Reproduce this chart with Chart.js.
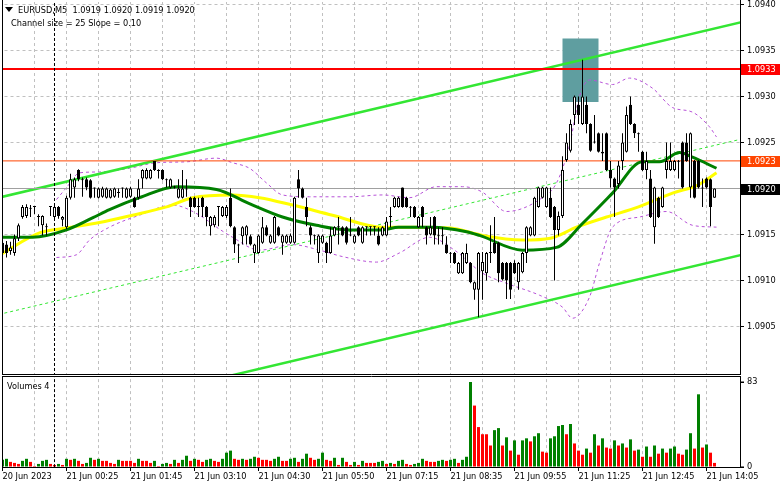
<!DOCTYPE html>
<html><head><meta charset="utf-8">
<script src="https://cdn.jsdelivr.net/npm/chart.js@4.4.1/dist/chart.umd.min.js"></script>
<style>
html,body{margin:0;padding:0;background:#fff;}
#wrap{position:relative;width:781px;height:489px;overflow:hidden;background:#fff;}
canvas{position:absolute;left:0;}
.t{position:absolute;font-family:'DejaVu Sans',sans-serif;font-size:8.2px;line-height:10px;color:#000;white-space:pre;}
#tri{position:absolute;left:5px;top:7px;width:0;height:0;border-left:4px solid transparent;border-right:4px solid transparent;border-top:5px solid #000;}
</style></head><body>
<div id="wrap">
<canvas id="priceChart" width="781" height="376" style="top:0"></canvas>
<canvas id="volChart" width="781" height="113" style="top:376px"></canvas>
<div id="tri"></div>
<div class="t" id="hdr" style="left:18px;top:5px"></div>
<div class="t" style="left:11px;top:18px">Channel size = 25 Slope = 0.10</div>
<div class="t" id="volTitle" style="left:7px;top:381px"></div>
</div>
<script>
const symbolName = 'EURUSD,M5';
const timeLabels = ['20 Jun 2023','21 Jun 00:25','21 Jun 01:45','21 Jun 03:10','21 Jun 04:30','21 Jun 05:50','21 Jun 07:15','21 Jun 08:35','21 Jun 09:55','21 Jun 11:25','21 Jun 12:45','21 Jun 14:05'];
const priceTicks = [1.0905,1.0910,1.0915,1.0920,1.0925,1.0930,1.0935,1.0940];
const volumeTicks = [0, 83];

const open = [
1.09141,1.09139,1.09132,1.09130,1.09146,1.09169,1.09170,1.09179,1.09180,1.09169,
1.09160,1.09158,1.09180,1.09169,1.09180,1.09166,1.09158,1.09190,1.09201,1.09220,
1.09210,1.09210,1.09209,1.09200,1.09190,1.09191,1.09190,1.09190,1.09191,1.09195,
1.09200,1.09190,1.09191,1.09190,1.09190,1.09211,1.09211,1.09211,1.09230,1.09220,
1.09220,1.09210,1.09201,1.09201,1.09190,1.09190,1.09200,1.09190,1.09190,1.09180,
1.09190,1.09180,1.09159,1.09160,1.09180,1.09170,1.09170,1.09190,1.09158,1.09139,
1.09148,1.09149,1.09148,1.09130,1.09130,1.09141,1.09158,1.09141,1.09141,1.09158,
1.09141,1.09141,1.09141,1.09141,1.09210,1.09200,1.09180,1.09158,1.09149,1.09130,
1.09141,1.09141,1.09130,1.09149,1.09158,1.09158,1.09158,1.09150,1.09141,1.09158,
1.09141,1.09158,1.09158,1.09158,1.09149,1.09149,1.09149,1.09169,1.09180,1.09180,
1.09201,1.09190,1.09180,1.09180,1.09158,1.09180,1.09158,1.09150,1.09169,1.09149,
1.09148,1.09139,1.09130,1.09130,1.09108,1.09108,1.09119,1.09119,1.09090,1.09090,
1.09110,1.09108,1.09130,1.09141,1.09141,1.09119,1.09119,1.09119,1.09119,1.09098,
1.09109,1.09130,1.09149,1.09149,1.09180,1.09190,1.09180,1.09190,1.09180,1.09155,
1.09170,1.09231,1.09241,1.09280,1.09291,1.09270,1.09291,1.09270,1.09250,1.09260,
1.09240,1.09260,1.09220,1.09211,1.09205,1.09230,1.09240,1.09291,1.09270,1.09260,
1.09240,1.09220,1.09211,1.09158,1.09190,1.09180,1.09220,1.09220,1.09220,1.09230,
1.09250,1.09250,1.09201,1.09230,1.09230,1.09201,1.09211,1.09210,1.09190];
const high = [
1.09145,1.09143,1.09142,1.09150,1.09162,1.09182,1.09183,1.09182,1.09181,1.09172,
1.09171,1.09162,1.09181,1.09182,1.09181,1.09170,1.09192,1.09216,1.09212,1.09221,
1.09212,1.09212,1.09210,1.09201,1.09201,1.09202,1.09201,1.09200,1.09201,1.09200,
1.09201,1.09201,1.09202,1.09191,1.09210,1.09221,1.09222,1.09221,1.09230,1.09221,
1.09221,1.09211,1.09211,1.09203,1.09210,1.09220,1.09210,1.09191,1.09191,1.09190,
1.09191,1.09181,1.09170,1.09171,1.09181,1.09181,1.09182,1.09200,1.09159,1.09140,
1.09159,1.09160,1.09150,1.09140,1.09150,1.09169,1.09160,1.09150,1.09170,1.09159,
1.09150,1.09150,1.09151,1.09191,1.09220,1.09201,1.09190,1.09160,1.09150,1.09150,
1.09150,1.09142,1.09158,1.09159,1.09169,1.09159,1.09159,1.09169,1.09150,1.09159,
1.09159,1.09159,1.09159,1.09159,1.09158,1.09159,1.09169,1.09180,1.09191,1.09191,
1.09201,1.09191,1.09181,1.09181,1.09170,1.09181,1.09159,1.09169,1.09170,1.09158,
1.09158,1.09148,1.09131,1.09131,1.09120,1.09131,1.09140,1.09120,1.09099,1.09131,
1.09131,1.09131,1.09160,1.09169,1.09142,1.09120,1.09120,1.09120,1.09122,1.09120,
1.09131,1.09159,1.09159,1.09191,1.09202,1.09202,1.09202,1.09201,1.09181,1.09175,
1.09235,1.09260,1.09275,1.09301,1.09300,1.09340,1.09300,1.09271,1.09280,1.09261,
1.09260,1.09261,1.09230,1.09212,1.09230,1.09260,1.09289,1.09300,1.09271,1.09261,
1.09241,1.09240,1.09220,1.09202,1.09191,1.09202,1.09250,1.09250,1.09231,1.09231,
1.09251,1.09260,1.09261,1.09231,1.09231,1.09211,1.09212,1.09211,1.09200];
const low = [
1.09126,1.09125,1.09128,1.09127,1.09143,1.09167,1.09168,1.09169,1.09172,1.09159,
1.09149,1.09149,1.09170,1.09165,1.09167,1.09159,1.09156,1.09188,1.09190,1.09208,
1.09191,1.09198,1.09189,1.09190,1.09189,1.09190,1.09189,1.09189,1.09190,1.09190,
1.09190,1.09189,1.09190,1.09179,1.09188,1.09200,1.09210,1.09210,1.09219,1.09211,
1.09209,1.09201,1.09200,1.09200,1.09189,1.09189,1.09191,1.09169,1.09179,1.09169,
1.09169,1.09159,1.09149,1.09158,1.09159,1.09169,1.09168,1.09158,1.09130,1.09119,
1.09139,1.09139,1.09138,1.09119,1.09129,1.09140,1.09148,1.09140,1.09140,1.09148,
1.09128,1.09140,1.09140,1.09140,1.09190,1.09189,1.09159,1.09139,1.09139,1.09119,
1.09140,1.09119,1.09129,1.09148,1.09139,1.09148,1.09139,1.09148,1.09140,1.09148,
1.09140,1.09149,1.09149,1.09149,1.09138,1.09148,1.09148,1.09158,1.09179,1.09179,
1.09179,1.09179,1.09169,1.09168,1.09157,1.09158,1.09139,1.09149,1.09139,1.09139,
1.09139,1.09129,1.09119,1.09118,1.09107,1.09107,1.09118,1.09097,1.09079,1.09060,
1.09079,1.09100,1.09119,1.09129,1.09098,1.09100,1.09080,1.09080,1.09107,1.09090,
1.09108,1.09119,1.09148,1.09148,1.09179,1.09189,1.09179,1.09168,1.09100,1.09149,
1.09168,1.09229,1.09239,1.09269,1.09270,1.09269,1.09260,1.09240,1.09249,1.09239,
1.09230,1.09219,1.09201,1.09169,1.09200,1.09220,1.09239,1.09269,1.09255,1.09240,
1.09219,1.09210,1.09168,1.09140,1.09168,1.09179,1.09211,1.09219,1.09219,1.09211,
1.09200,1.09229,1.09190,1.09189,1.09200,1.09180,1.09200,1.09159,1.09190];
const close = [
1.09130,1.09130,1.09136,1.09146,1.09160,1.09180,1.09180,1.09178,1.09180,1.09170,
1.09170,1.09159,1.09180,1.09180,1.09170,1.09169,1.09190,1.09210,1.09210,1.09210,
1.09209,1.09201,1.09190,1.09200,1.09200,1.09200,1.09200,1.09199,1.09200,1.09195,
1.09200,1.09200,1.09200,1.09180,1.09200,1.09220,1.09220,1.09220,1.09220,1.09219,
1.09210,1.09209,1.09210,1.09201,1.09200,1.09200,1.09199,1.09180,1.09180,1.09181,
1.09180,1.09169,1.09169,1.09169,1.09180,1.09180,1.09180,1.09159,1.09139,1.09138,
1.09158,1.09159,1.09139,1.09139,1.09149,1.09158,1.09149,1.09149,1.09169,1.09149,
1.09149,1.09149,1.09149,1.09190,1.09200,1.09190,1.09169,1.09149,1.09148,1.09149,
1.09149,1.09130,1.09149,1.09158,1.09159,1.09149,1.09141,1.09149,1.09149,1.09149,
1.09158,1.09158,1.09158,1.09158,1.09139,1.09158,1.09164,1.09170,1.09190,1.09190,
1.09180,1.09180,1.09179,1.09169,1.09169,1.09169,1.09149,1.09158,1.09149,1.09148,
1.09149,1.09130,1.09129,1.09119,1.09119,1.09130,1.09130,1.09098,1.09098,1.09130,
1.09120,1.09130,1.09131,1.09130,1.09108,1.09101,1.09100,1.09090,1.09108,1.09119,
1.09130,1.09158,1.09158,1.09190,1.09201,1.09201,1.09201,1.09169,1.09155,1.09170,
1.09220,1.09250,1.09270,1.09300,1.09280,1.09300,1.09270,1.09241,1.09251,1.09240,
1.09238,1.09220,1.09211,1.09201,1.09225,1.09250,1.09280,1.09270,1.09260,1.09259,
1.09220,1.09230,1.09169,1.09201,1.09169,1.09201,1.09230,1.09230,1.09230,1.09229,
1.09201,1.09230,1.09260,1.09190,1.09201,1.09200,1.09201,1.09180,1.09200];
const volume = [
7,8,5,4,3,6,8,5,1,3,
6,7,3,2,3,2,8,7,8,6,
3,4,9,7,8,6,6,4,3,7,
6,6,6,4,8,6,6,4,6,1,
3,4,3,7,4,7,11,6,8,7,
5,7,8,6,5,8,14,16,8,7,
8,7,8,10,9,7,7,6,8,10,
6,6,8,9,5,8,13,9,7,8,
14,7,6,9,2,9,5,2,5,2,
6,4,4,4,5,6,3,4,3,6,
7,3,2,3,4,8,6,5,5,6,
7,6,7,8,4,7,10,83,60,39,
32,32,21,36,38,21,29,16,26,12,
26,28,25,30,33,15,14,28,30,40,
41,32,42,23,16,12,18,14,32,21,
28,19,18,26,21,23,19,27,16,17,
10,20,10,21,13,18,14,18,20,13,
12,17,33,18,71,19,22,14,4];

const maSlowBars = [-1,9.4,16,24.25,32.5,41,47.5,57.5,64.25,72.5,82.5,95,103.5,112,120,130,137,143.5,151,159,167.5,174,178.5];
const maSlowValues = [1.09127,1.09152,1.09157,1.09163,1.09171,1.09180,1.09190,1.09193,1.09190,1.09182,1.09171,1.09158,1.09158,1.09157,1.09149,1.09144,1.09146,1.09158,1.09169,1.09180,1.09195,1.09204,1.09217];
const maFastBars = [-1,7.5,16,22.5,26.75,34.25,43.5,53.5,62,70,78.5,86.75,95,99,107.5,116,119.25,130,138.5,145,152.5,160,164.25,169.25,172.5,178.5];
const maFastValues = [1.09147,1.09147,1.09155,1.09168,1.09177,1.09190,1.09202,1.09199,1.09183,1.09169,1.09160,1.09155,1.09155,1.09158,1.09158,1.09153,1.09149,1.09133,1.09136,1.09162,1.09195,1.09229,1.09229,1.09239,1.09234,1.09222];
const bandUpperBars = [13.5,16,19.25,24.25,31.75,38.5,46,53.5,57.5,61.75,66,70,76.75,86.75,95,101.75,108.5,115,120,126,134.25,138.5,141.75,144.25,146.75,152.5,156.75,162.5,167.5,172.5,176.75,178.5];
const bandUpperValues = [1.09188,1.09201,1.09217,1.09218,1.09222,1.09228,1.09229,1.09233,1.09228,1.09222,1.09206,1.09193,1.09191,1.09191,1.09193,1.09190,1.09202,1.09202,1.09196,1.09175,1.09188,1.09206,1.09247,1.09300,1.09318,1.09313,1.09320,1.09309,1.09288,1.09283,1.09267,1.09256];
const bandLowerBars = [13.5,18.5,21.75,26.75,34.25,42.5,49.25,53.5,57.5,64.25,72.5,79.25,85,93.5,99.25,106.75,113,120,126,134.25,140,142.5,146.75,149.25,152.5,159.25,166,172.5,178.5];
const bandLowerValues = [1.09125,1.09128,1.09144,1.09158,1.09171,1.09182,1.09171,1.09158,1.09147,1.09133,1.09139,1.09133,1.09126,1.09120,1.09130,1.09147,1.09133,1.09108,1.09097,1.09084,1.09071,1.09059,1.09082,1.09119,1.09158,1.09169,1.09175,1.09160,1.09158];

const channelBars = [-1, 185];
const channelUpper = [1.09190, 1.09381];
const channelMiddle = [1.09063, 1.09254];
const channelLower = [1.08937, 1.09128];
const levelResistance = 1.0933;
const levelOrange = 1.0923;
const levelBid = 1.0920;
const zoneBars = [140, 149];
const zonePrices = [1.09294, 1.09363];
const daySeparatorBar = 13;

const markerLevels = [levelResistance, levelOrange, levelBid];
const markerColors = ['#ff0000', '#ff4500', '#000000'];

const FONT = 'DejaVu Sans';
Chart.defaults.font.family = FONT;
Chart.defaults.font.size = 8.2;
Chart.defaults.color = '#000';

const last = open.length - 1;
document.getElementById('hdr').textContent = symbolName + '  ' + [open[last], high[last], low[last], close[last]].map(v => v.toFixed(4)).join(' ');
document.getElementById('volTitle').textContent = 'Volumes ' + volume[last];

const gridBars = []; for (let b = 8; b <= 176; b += 8) gridBars.push(b);
const labelBars = [0].concat(gridBars);
const markBars = labelBars.filter(b => b % 16 === 0);
const X_MIN = -0.125, X_MAX = 184.375;
const P_MIN = 1.0899837, P_MAX = 1.0940272;
const V_MAX = 87.9;
const GRID = '#c0c0c0';

const bars = open.map((_, i) => i);
const wickData = bars.map(i => ({x: i, y: [Math.min(low[i], open[i], close[i]), Math.max(high[i], open[i], close[i])]}));
const bodyData = bars.map(i => ({x: i, y: [Math.min(open[i], close[i]), Math.max(open[i], close[i])]}));
const pairs = (xs, ys) => xs.map((x, k) => ({x: x, y: ys[k]}));
const hline = v => channelBars.map(x => ({x: x, y: v}));

const lineDs = (data, color, width, order, dash, smooth, noClip) => ({
  type: 'line', data: data, borderColor: color, borderWidth: width, order: order,
  borderDash: dash || [], pointRadius: 0, fill: false, clip: noClip ? false : undefined,
  cubicInterpolationMode: smooth ? 'monotone' : 'default', tension: 0
});

// grid lines and tick marks, as line datasets placed through the scales
const vGrid = (lo, hi) => gridBars.map(b => lineDs([{x: b, y: lo}, {x: b, y: hi}], GRID, 1, 200, [3, 3]));
const hGrid = priceTicks.map(v => lineDs(hline(v), GRID, 1, 200, [3, 3]));
const yMarks = vals => vals.map(v => lineDs([{x: X_MAX, y: v}, {x: X_MAX + 1, y: v}], '#000000', 1, 1, null, false, true));
const xMarks = markBars.map(b => lineDs([{x: b, y: 0}, {x: b, y: -3.9}], '#000000', 1, 1, null, false, true));

const paneFrame = {
  id: 'paneFrame',
  afterDraw(chart, args, opts) {
    const {ctx, chartArea: a} = chart;
    ctx.save();
    ctx.strokeStyle = '#000';
    ctx.lineWidth = 1;
    ctx.setLineDash([]);
    ctx.beginPath();
    if (opts.top) { ctx.moveTo(a.left, 0.5); ctx.lineTo(a.right + 1, 0.5); }
    ctx.moveTo(a.left + 0.5, 0); ctx.lineTo(a.left + 0.5, a.bottom + 1);
    ctx.moveTo(a.left, a.bottom + 0.5); ctx.lineTo(a.right + 1, a.bottom + 0.5);
    ctx.moveTo(a.right + 0.5, 0); ctx.lineTo(a.right + 0.5, a.bottom + 1);
    ctx.stroke();
    ctx.restore();
  }
};

const priceMarkers = {
  id: 'priceMarkers',
  afterDraw(chart) {
    const s = chart.scales.y, ctx = chart.ctx;
    ctx.save();
    ctx.font = '8.2px "' + FONT + '"';
    ctx.textBaseline = 'middle';
    ctx.textAlign = 'left';
    markerLevels.forEach((v, k) => {
      const y = Math.round(s.getPixelForValue(v));
      ctx.fillStyle = markerColors[k];
      ctx.fillRect(s.left + 1, y - 5, 39, 11);
      ctx.fillStyle = '#ffffff';
      ctx.fillText(v.toFixed(4), s.left + 7, y + 0.5);
    });
    ctx.restore();
  }
};

new Chart(document.getElementById('priceChart'), {
  type: 'bar',
  data: {
    datasets: [].concat(
      vGrid(P_MIN - 0.001, P_MAX + 0.001),
      hGrid,
      [
        {type: 'bar', data: [{x: (zoneBars[0] + zoneBars[1]) / 2, y: zonePrices}], backgroundColor: '#5f9ea0', barThickness: 36, grouped: false, order: 100, inflateAmount: 0},
        lineDs(pairs(bandUpperBars, bandUpperValues), '#b752d8', 1, 90, [3, 3], true),
        lineDs(pairs(bandLowerBars, bandLowerValues), '#b752d8', 1, 90, [3, 3], true),
        lineDs(pairs(channelBars, channelUpper), '#33e633', 2.5, 80),
        lineDs(pairs(channelBars, channelLower), '#33e633', 2.5, 80),
        lineDs(pairs(channelBars, channelMiddle), '#33e633', 1, 80, [3, 3]),
        lineDs(hline(levelBid), '#a0a0a0', 1, 76),
        lineDs(hline(levelOrange), '#ff4500', 1, 75),
        lineDs(hline(levelResistance), '#ff0000', 2, 74),
        lineDs(pairs(maSlowBars, maSlowValues), '#ffff00', 3, 60, null, true),
        lineDs(pairs(maFastBars, maFastValues), '#008000', 3, 59, null, true),
        lineDs([{x: daySeparatorBar, y: P_MIN - 0.001}, {x: daySeparatorBar, y: P_MAX + 0.001}], '#000000', 1, 50, [3, 2]),
        {type: 'bar', data: wickData, backgroundColor: '#000000', barThickness: 1, grouped: false, order: 20, inflateAmount: 0, minBarLength: 1},
        {type: 'bar', data: bodyData, barThickness: 3, grouped: false, order: 10, inflateAmount: 0, minBarLength: 1,
         borderWidth: 1, borderColor: '#000000', borderSkipped: false,
         backgroundColor: ctx => (close[ctx.dataIndex] > open[ctx.dataIndex] ? '#ffffff' : '#000000')}
      ],
      yMarks(priceTicks)
    )
  },
  options: {
    responsive: false, animation: false, devicePixelRatio: 1, events: [],
    layout: {padding: {left: 2, top: 2, right: 0, bottom: 2}},
    plugins: {legend: {display: false}, tooltip: {enabled: false}, paneFrame: {top: false}},
    scales: {
      x: {
        type: 'linear', min: X_MIN, max: X_MAX, offset: false,
        grid: {drawOnChartArea: false, drawTicks: false, offset: false},
        border: {display: false},
        ticks: {display: false},
        afterBuildTicks: s => { s.ticks = gridBars.map(v => ({value: v})); },
        afterFit: s => { s.height = 0; s.paddingLeft = 0; s.paddingRight = 0; }
      },
      y: {
        type: 'linear', position: 'right', min: P_MIN, max: P_MAX,
        grid: {drawOnChartArea: false, drawTicks: true, tickLength: 4, tickColor: '#000', tickWidth: 1},
        border: {display: true, color: '#000', width: 1},
        ticks: {color: '#000', padding: 3, font: {family: FONT, size: 8.2}, callback: v => Number(v).toFixed(4)},
        afterBuildTicks: s => { s.ticks = priceTicks.map(v => ({value: v})); },
        afterFit: s => { s.width = 41; s.paddingTop = 0; s.paddingBottom = 0; }
      }
    }
  },
  plugins: [paneFrame, priceMarkers]
});

new Chart(document.getElementById('volChart'), {
  type: 'bar',
  data: {
    datasets: [].concat(
      vGrid(-5, V_MAX + 5),
      [
        lineDs([{x: daySeparatorBar, y: -5}, {x: daySeparatorBar, y: V_MAX + 5}], '#000000', 1, 5, [3, 2]),
        {type: 'bar', data: bars.map(i => ({x: i, y: volume[i]})), barThickness: 3, grouped: false, order: 10, inflateAmount: 0,
         backgroundColor: ctx => { const i = ctx.dataIndex; return (i === 0 || volume[i] > volume[i - 1]) ? '#008000' : '#ff0000'; }}
      ],
      yMarks(volumeTicks),
      xMarks
    )
  },
  options: {
    responsive: false, animation: false, devicePixelRatio: 1, events: [],
    layout: {padding: {left: 2, top: 1, right: 0, bottom: 0}},
    plugins: {legend: {display: false}, tooltip: {enabled: false}, paneFrame: {top: true}},
    scales: {
      x: {
        type: 'linear', min: X_MIN, max: X_MAX, offset: false,
        grid: {drawOnChartArea: false, drawTicks: true, tickLength: 4, tickColor: 'rgba(0,0,0,0)', offset: false},
        border: {display: false},
        ticks: {autoSkip: false, maxRotation: 0, minRotation: 0, align: 'start', padding: 1, color: '#000',
                font: {family: FONT, size: 8.2},
                callback: v => (v % 16 === 0 ? timeLabels[v / 16] : '')},
        afterBuildTicks: s => { s.ticks = labelBars.map(v => ({value: v})); },
        afterFit: s => { s.height = 22; s.paddingLeft = 0; s.paddingRight = 0; }
      },
      y: {
        type: 'linear', position: 'right', min: 0, max: V_MAX,
        grid: {drawOnChartArea: false, drawTicks: true, tickLength: 4, tickColor: '#000', tickWidth: 1},
        border: {display: true, color: '#000', width: 1},
        ticks: {color: '#000', padding: 3, font: {family: FONT, size: 8.2}},
        afterBuildTicks: s => { s.ticks = volumeTicks.map(v => ({value: v})); },
        afterFit: s => { s.width = 41; s.paddingTop = 0; s.paddingBottom = 0; }
      }
    }
  },
  plugins: [paneFrame]
});
</script>
</body></html>
